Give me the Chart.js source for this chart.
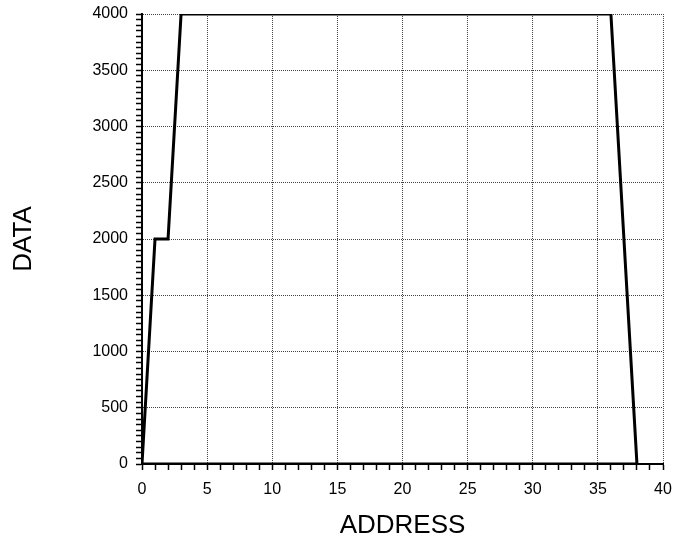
<!DOCTYPE html>
<html>
<head>
<meta charset="utf-8">
<script src="https://cdn.jsdelivr.net/npm/chart.js@4/dist/chart.umd.min.js"></script>
<style>
  html, body { margin: 0; padding: 0; background: #fff; overflow: hidden; }
  #wrap { width: 675px; height: 540px; position: relative; }
  canvas { display: block; }
</style>
</head>
<body>
<div id="wrap"><canvas id="chartData"></canvas></div>
<script>
// values
const addressValues = [0, 1, 2, 3, 36, 38, 0];
const dataValues = [0, 2000, 2000, 4000, 4000, 0, 0];

const xMajor = 5, xMinor = 1;
const yMajor = 500, yMinor = 50;

const fontFamily = "'Liberation Sans', Arial, Helvetica, sans-serif";
const gridColor = '#444';

const points = addressValues.map((x, i) => ({ x, y: dataValues[i] }));

const majorOnly = (step) => (c) => (c.tick && c.tick.value % step === 0) ? gridColor : 'rgba(0,0,0,0)';

new Chart(document.getElementById('chartData'), {
  type: 'line',
  data: {
    datasets: [{
      data: points,
      borderColor: '#000',
      borderWidth: 3,
      pointRadius: 0,
      tension: 0,
      fill: false,
    }],
  },
  options: {
    responsive: true,
    maintainAspectRatio: false,
    animation: false,
    layout: { autoPadding: false, padding: { top: 14, right: 12, left: 0, bottom: 0 } },
    plugins: { legend: { display: false }, tooltip: { enabled: false } },
    scales: {
      x: {
        type: 'linear',
        min: 0,
        max: 40,
        afterFit: (s) => { s.height = 76; s.paddingLeft = 0; s.paddingRight = 0; },
        ticks: {
          stepSize: xMinor,
          autoSkip: false,
          maxRotation: 0,
          padding: 10,
          color: '#000',
          font: { family: fontFamily, size: 16 },
          callback: (v) => v % xMajor === 0 ? String(v) : '',
        },
        grid: {
          color: majorOnly(xMajor),
          lineWidth: 1,
          tickColor: '#000',
          tickWidth: 1.5,
          tickLength: 6,
        },
        border: { display: true, color: '#000', width: 2, dash: [1, 1] },
        title: {
          display: true,
          text: 'ADDRESS',
          color: '#000',
          font: { family: fontFamily, size: 26 },
          padding: { top: 0, bottom: -1 },
        },
      },
      y: {
        min: 0,
        max: 4000,
        afterFit: (s) => { s.width = 142; s.paddingTop = 0; s.paddingBottom = 0; },
        ticks: {
          stepSize: yMinor,
          autoSkip: false,
          padding: 8,
          color: '#000',
          font: { family: fontFamily, size: 16 },
          callback: (v) => v % yMajor === 0 ? String(v) : '',
        },
        grid: {
          color: majorOnly(yMajor),
          lineWidth: 1,
          tickColor: '#000',
          tickWidth: 1.5,
          tickLength: 6,
        },
        border: { display: true, color: '#000', width: 2, dash: [1, 1] },
        title: {
          display: true,
          text: 'DATA',
          color: '#000',
          font: { family: fontFamily, size: 26 },
          padding: { top: 8, bottom: 0 },
        },
      },
    },
  },
});
</script>
</body>
</html>
